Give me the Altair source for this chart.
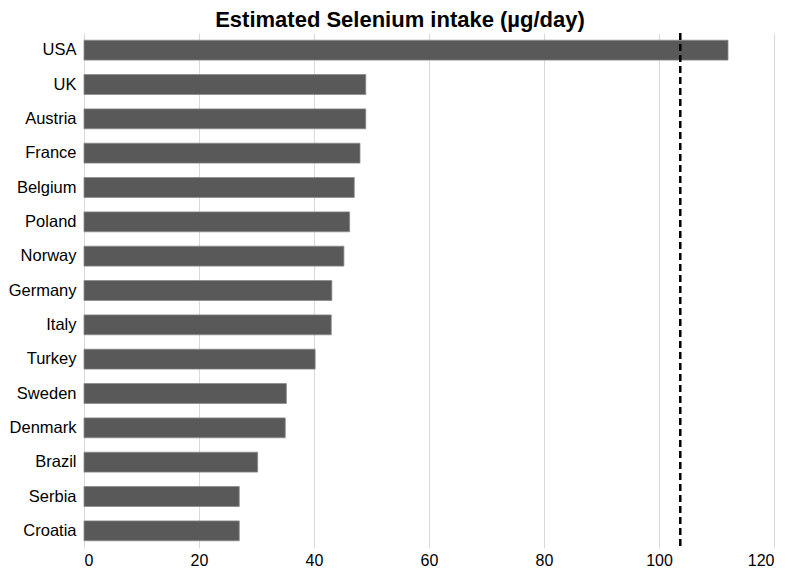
import altair as alt
import pandas as pd

countries = ["USA", "UK", "Austria", "France", "Belgium", "Poland", "Norway",
             "Germany", "Italy", "Turkey", "Sweden", "Denmark", "Brazil",
             "Serbia", "Croatia"]
intake = [112, 49, 49, 48, 47, 46.2, 45.2, 43.1, 43, 40.2, 35.2, 35, 30.2, 27, 27]
reference_line = [103.7]

df = pd.DataFrame({"country": countries, "intake": intake})
ref = pd.DataFrame({"value": reference_line})

FONT = "Liberation Sans"

x_scale = alt.Scale(domain=[0, 120], nice=False)

bars = alt.Chart(df).mark_bar(color="#595959", stroke="#8a8a8a", strokeWidth=0.8).encode(
    x=alt.X("intake:Q", scale=x_scale,
            axis=alt.Axis(values=[0, 20, 40, 60, 80, 100, 120], title=None,
                          grid=True, gridColor="#d9d9d9", gridWidth=1,
                          domain=False, ticks=False, labelPadding=4,
                          labelFontSize=16, labelColor="#000000", labelFont=FONT)),
    y=alt.Y("country:N", sort=countries,
            scale=alt.Scale(paddingInner=0.42, paddingOuter=0.21),
            axis=alt.Axis(title=None, domain=False, ticks=False, labelPadding=8,
                          labelFontSize=16.5, labelColor="#000000", labelFont=FONT)),
)

rule = alt.Chart(ref).mark_rule(color="#000000", strokeWidth=2.5, strokeDash=[7, 4]).encode(
    x=alt.X("value:Q", scale=x_scale),
)

chart = alt.layer(bars, rule).properties(
    width=690,
    height=515,
    title=alt.TitleParams("Estimated Selenium intake (µg/day)", font=FONT,
                          fontSize=22, fontWeight="bold", color="#000000",
                          anchor="middle", dx=-29, offset=0),
    autosize=alt.AutoSizeParams(type="none"),
    padding={"left": 76, "top": 25, "right": 14, "bottom": 19},
).configure_view(stroke=None)

chart.save("out.html", embed_options={"renderer": "svg", "actions": False})
